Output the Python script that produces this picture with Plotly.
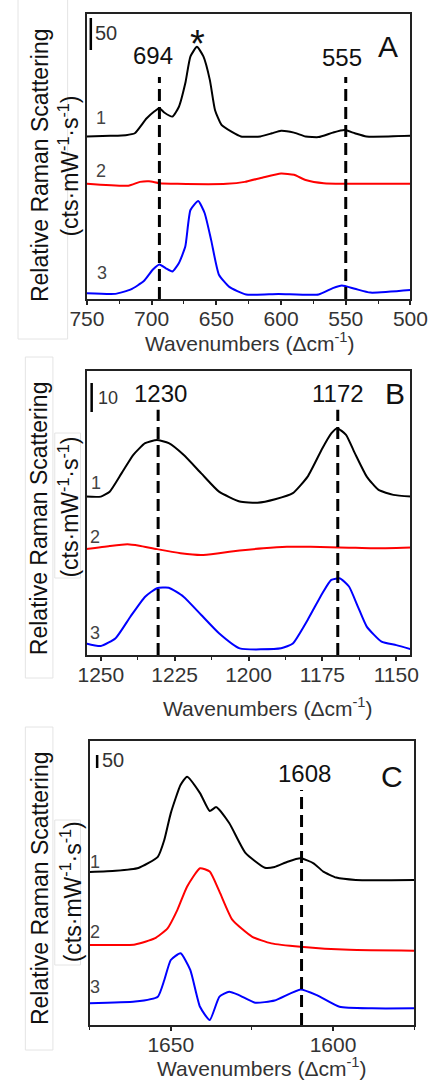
import plotly.graph_objects as go

# ---------------- Panel A (750-500 cm-1) ----------------
a_black_x = [750,732,720,713,704,698,694,690,684,679,674,670,665,660,655,651,646,638,631,616,607,600,590,581,571,560,551,543,534,500]
a_black_y = [254,255,256,259,282,293,298,291,285,300,337,379,394,379,342,295,272,261,254,254,259,263,260,254,253,260,264,259,254,255]
a_red_x = [750,718,709,702,694,680,642,628,614,600,590,581,567,500]
a_red_y = [180,177,183,184,181,180,180,183,190,196,194,186,181,180]
a_blue_x = [750,728,716,706,699,694,689,684,679,674,670,664,659,654,648,640,627,602,571,560,553,543,531,500]
a_blue_y = [9,8,15,28,46,54,48,43,56,82,139,153,134,92,38,19,7,8,7,17,21,16,10,14]
a_marks = [694, 550]
a_mark_labels = ["694", "555"]

# ---------------- Panel B (1255-1145 cm-1) ----------------
b_black_x = [1255,1250,1247,1243,1239,1235,1231,1227,1222,1216,1210,1203,1197,1191,1185,1180,1175,1172,1170,1167,1164,1160,1156,1151,1145]
b_black_y = [54.6,54.6,56.3,62.6,69.0,73.0,74.1,73.0,69.0,62.6,56.3,52.9,52.5,53.7,55.8,61.5,71.3,76.4,78.2,75.9,69.5,61.5,56.9,55.2,54.6]
b_red_x = [1255,1247,1241,1237,1231,1223,1216,1210,1203,1195,1187,1179,1166,1158,1145]
b_red_y = [36.5,37.6,38.2,37.7,36.5,35.1,34.5,35.1,36.0,36.8,37.3,37.3,37.0,36.8,37.1]
b_blue_x = [1255,1250,1245,1240,1235,1231,1227,1222,1216,1210,1203,1189,1185,1180,1175,1172,1169,1166,1163,1160,1155,1150,1145]
b_blue_y = [4.0,3.1,5.8,13.2,20.1,23.0,23.2,20.1,13.8,7.5,2.3,2.3,4.0,12.1,21.3,25.9,26.4,23.6,16.7,9.8,4.6,3.4,2.0]
b_marks = [1230.6, 1169.8]
b_mark_labels = ["1230", "1172"]

# ---------------- Panel C (1675-1575 cm-1) ----------------
c_black_x = [1675,1667,1660,1654,1652,1650,1647,1645,1641,1638,1636,1632,1627,1621,1618,1614,1610,1606,1603,1599,1593,1575]
c_black_y = [588,593,604,647,712,815,923,955,892,823,838,777,662,605,608,628,641,622,590,567,558,558]
c_red_x = [1675,1661,1655,1651,1648,1645,1641,1638,1635,1631,1625,1619,1610,1595,1575]
c_red_y = [308,310,333,372,442,532,603,590,513,404,340,314,301,289,286]
c_blue_x = [1675,1661,1654,1652,1650,1647,1644,1641,1638,1635,1632,1629,1624,1618,1610,1605,1598,1588,1575]
c_blue_y = [84,90,109,173,250,276,212,70,19,109,128,115,86,94,137,115,70,64,64]
c_marks = [1609.7]
c_mark_labels = ["1608"]

W, H = 445, 1081
FONT = "Liberation Sans, Arial, sans-serif"

def px(x):
    return x / W

def py(y):
    return 1 - y / H

panels = [
    dict(xd=(75, 427), yd=(14, 299), xr=[750, 500], yr=[0, 445.3], dtick=50, minor=25,
         data=[(a_black_x, a_black_y), (a_red_x, a_red_y), (a_blue_x, a_blue_y)],
         marks=a_marks, mark_top=347, bar=(747, 389, 439)),
    dict(xd=(75, 427), yd=(371, 655), xr=[1254.7, 1145.2], yr=[0, 97.9], dtick=25, minor=12.5,
         data=[(b_black_x, b_black_y), (b_red_x, b_red_y), (b_blue_x, b_blue_y)],
         marks=b_marks, mark_top=84.5, bar=(1253.1, 83.8, 93.8)),
    dict(xd=(78, 431), yd=(741, 1025), xr=[1675, 1575], yr=[0, 1092.3], dtick=50, minor=25,
         data=[(c_black_x, c_black_y), (c_red_x, c_red_y), (c_blue_x, c_blue_y)],
         marks=c_marks, mark_top=904, bar=(1672.7, 988, 1038)),
]

colors = ["#000000", "#ff0000", "#0000ff"]
fig = go.Figure()
layout = dict(width=W, height=H, margin=dict(l=0, r=0, t=0, b=0),
              paper_bgcolor="white", plot_bgcolor="white", showlegend=False,
              font=dict(family=FONT, color="#222"))
shapes = []
annotations = []

for i, p in enumerate(panels):
    n = "" if i == 0 else str(i + 1)
    xa, ya = "x" + n, "y" + n
    for (xs, ys), c in zip(p["data"], colors):
        fig.add_trace(go.Scatter(x=xs, y=ys, mode="lines", xaxis=xa, yaxis=ya,
                                 line=dict(color=c, width=2, shape="spline", smoothing=0.5),
                                 hoverinfo="skip"))
    layout["xaxis" + n] = dict(domain=[px(p["xd"][0]), px(p["xd"][1])], anchor=ya,
                               range=p["xr"], dtick=p["dtick"], tick0=0,
                               showline=True, mirror=True, linecolor="#222", linewidth=1.5,
                               ticks="outside", ticklen=4, tickwidth=1.5, tickcolor="#222",
                               ticklabelstandoff=-4,
                               minor=dict(dtick=p["minor"], tick0=0, ticks="outside", ticklen=3,
                                          tickwidth=1, tickcolor="#222"),
                               showgrid=False, zeroline=False,
                               tickfont=dict(size=21, color="#333", family=FONT))
    layout["yaxis" + n] = dict(domain=[py(p["yd"][1]), py(p["yd"][0])], anchor=xa,
                               range=p["yr"], showline=True, mirror=True, linecolor="#222",
                               linewidth=1.5, ticks="", showticklabels=False,
                               showgrid=False, zeroline=False)
    for m in p["marks"]:
        shapes.append(dict(type="line", xref=xa, yref=ya, x0=m, x1=m, y0=0, y1=p["mark_top"],
                           line=dict(color="black", width=3, dash="12px,6px")))
    bx, b0, b1 = p["bar"]
    shapes.append(dict(type="line", xref=xa, yref=ya, x0=bx, x1=bx, y0=b0, y1=b1,
                       line=dict(color="black", width=2.5)))

def ann(text, x, y, size, color="#111", angle=0):
    annotations.append(dict(text=text, x=px(x), y=py(y), xref="paper", yref="paper",
                            xanchor="center", yanchor="middle", showarrow=False,
                            textangle=angle, font=dict(size=size, color=color, family=FONT)))

# Panel A texts
ann("694", 147, 55, 24)
ann("555", 353, 58, 24)
ann("*", 195, 44, 38)
ann("A", 403, 47, 30)
ann("50", 96, 33, 20, "#333")
ann("1", 90, 118, 18, "#444")
ann("2", 90, 171, 18, "#444")
ann("3", 91, 273, 18, "#444")
ann("Wavenumbers (Δcm<sup>-1</sup>)", 252, 342, 21, "#333")
ann("Relative Raman Scattering", 24, 165, 23, "#111", -90)
ann("(cts·mW<sup>-1</sup>·s<sup>-1</sup>)", 55, 166, 23, "#111", -90)

# Panel B texts
ann("1230", 154.5, 394, 24)
ann("1172", 348.5, 394, 24)
ann("B", 410, 394, 30)
ann("10", 98, 398, 18, "#333")
ann("1", 85, 483, 18, "#444")
ann("2", 84, 537, 18, "#444")
ann("3", 84, 633, 18, "#444")
ann("Wavenumbers (Δcm<sup>-1</sup>)", 272, 707, 21, "#333")
ann("Relative Raman Scattering", 23, 518, 23, "#111", -90)
ann("(cts·mW<sup>-1</sup>·s<sup>-1</sup>)", 55, 507, 23, "#111", -90)

# Panel C texts
ann("1608", 311.5, 773, 24)
ann("C", 406.7, 776, 30)
ann("50", 103, 760, 20, "#333")
ann("1", 84, 862, 18, "#444")
ann("2", 84, 932, 18, "#444")
ann("3", 84, 987, 18, "#444")
ann("Wavenumbers (Δcm<sup>-1</sup>)", 265, 1067, 21, "#333")
ann("Relative Raman Scattering", 24, 888, 23, "#111", -90)
ann("(cts·mW<sup>-1</sup>·s<sup>-1</sup>)", 58, 892, 23, "#111", -90)

# faint frames around the y-axis titles
frames = [(0, -2, 54, 339), (8, 357, 38, 678), (40, 433, 68, 578), (8, 727, 38, 1050), (40, 820, 68, 965)]
for x0, y0, x1, y1 in frames:
    shapes.append(dict(type="rect", xref="paper", yref="paper", x0=px(x0), x1=px(x1),
                       y0=py(y1), y1=py(y0), line=dict(color="#e4e4e4", width=1), layer="below"))

layout["shapes"] = shapes
layout["annotations"] = annotations
fig.update_layout(**layout)
fig.write_html("out.html")
